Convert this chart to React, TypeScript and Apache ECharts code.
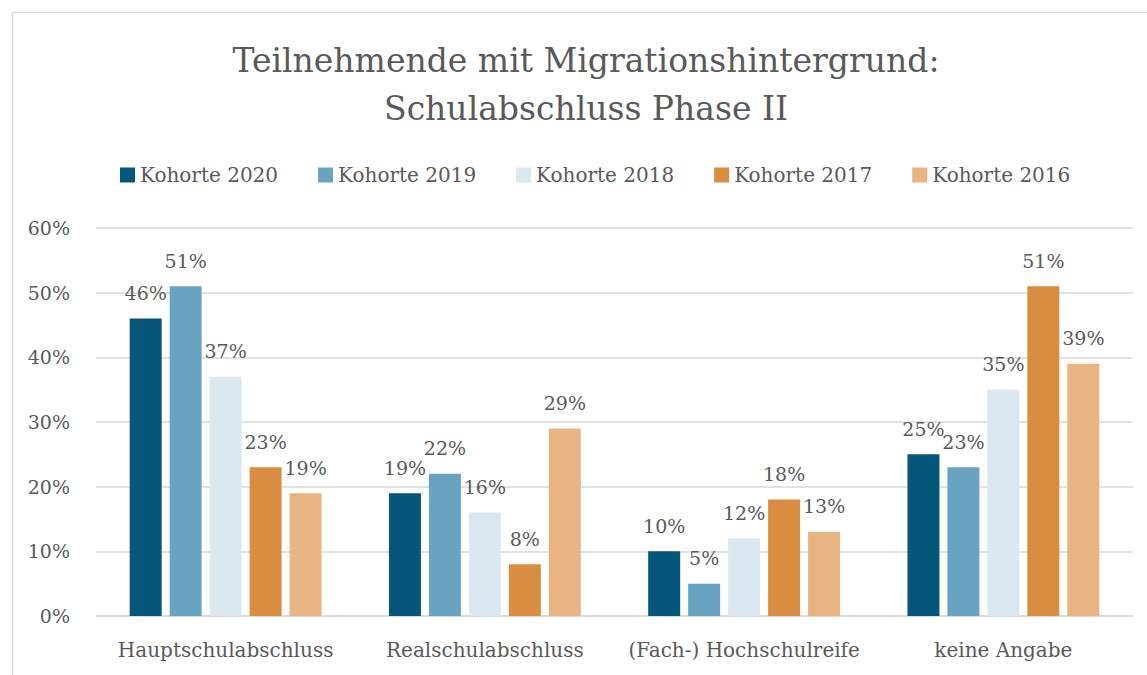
import React, { useEffect, useRef } from "react";
import * as echarts from "echarts";

const categories = ["Hauptschulabschluss", "Realschulabschluss", "(Fach-) Hochschulreife", "keine Angabe"];
const seriesNames = ["Kohorte 2020", "Kohorte 2019", "Kohorte 2018", "Kohorte 2017", "Kohorte 2016"];
const kohorte2020 = [46, 19, 10, 25];
const kohorte2019 = [51, 22, 5, 23];
const kohorte2018 = [37, 16, 12, 35];
const kohorte2017 = [23, 8, 18, 51];
const kohorte2016 = [19, 29, 13, 39];
const seriesValues = [kohorte2020, kohorte2019, kohorte2018, kohorte2017, kohorte2016];
const colors = ["#04567A", "#68A3C1", "#DAE8F1", "#D98D41", "#E8B482"];
const titleLines = ["Teilnehmende mit Migrationshintergrund:", "Schulabschluss Phase II"];

const FONT = "DejaVu Serif";
const TEXT = "#595959";

export default function App() {
  const ref = useRef<HTMLDivElement>(null);
  useEffect(() => {
    const chart = echarts.init(ref.current!, null, { renderer: "svg" });
    chart.setOption({
      animation: false,
      backgroundColor: "#ffffff",
      textStyle: { fontFamily: FONT, color: TEXT },
      graphic: [
        {
          type: "rect",
          left: 10,
          top: 10,
          shape: { x: 0, y: 0, width: 1200, height: 700 },
          style: { fill: "none", stroke: "#D9D9D9", lineWidth: 1.5 },
          silent: true,
        },
        {
          type: "text",
          x: 586,
          y: 36,
          silent: true,
          style: {
            text: titleLines.join("\n"),
            align: "center",
            verticalAlign: "top",
            fontFamily: FONT,
            fontSize: 33,
            lineHeight: 48,
            fill: TEXT,
          },
        },
      ],
      legend: {
        top: 160,
        left: 115,
        itemWidth: 15,
        itemHeight: 15,
        itemGap: 40,
        icon: "rect",
        textStyle: { fontFamily: FONT, fontSize: 20, color: TEXT },
        data: seriesNames,
      },
      grid: { left: 96, right: 14, top: 228, bottom: 59, containLabel: false },
      xAxis: {
        type: "category",
        data: categories,
        axisLine: { show: true, lineStyle: { color: "#D9D9D9", width: 1.5 } },
        axisTick: { show: false },
        axisLabel: { fontFamily: FONT, fontSize: 20, color: TEXT, margin: 24, interval: 0 },
      },
      yAxis: {
        type: "value",
        min: 0,
        max: 60,
        interval: 10,
        axisLine: { show: false },
        axisTick: { show: false },
        splitLine: { lineStyle: { color: "#D9D9D9", width: 1.5 } },
        axisLabel: { fontFamily: FONT, fontSize: 19, color: TEXT, margin: 26, formatter: "{value}%" },
      },
      series: seriesNames.map((name, i) => ({
        name,
        type: "bar",
        data: seriesValues[i],
        barGap: "25%",
        barCategoryGap: "26%",
        itemStyle: { color: colors[i] },
        label: {
          show: true,
          position: "top",
          distance: 16,
          formatter: "{c}%",
          fontFamily: FONT,
          fontSize: 19,
          color: TEXT,
        },
      })),
    });
    return () => chart.dispose();
  }, []);
  return <div ref={ref} style={{ position: "fixed", left: 0, top: 0, width: 1147, height: 675 }} />;
}
